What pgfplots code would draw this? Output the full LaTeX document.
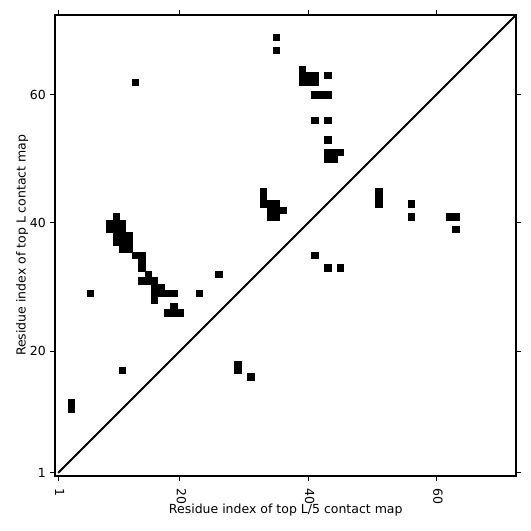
\documentclass[border=0pt]{standalone}
\usepackage{fontspec}
\setmainfont{DejaVu Sans}
\usepackage{pgfplots}
\pgfplotsset{compat=1.18}
\begin{document}
\fontsize{12.5pt}{15pt}\selectfont
\begin{tikzpicture}
\useasboundingbox (-55pt,-55pt) rectangle (476pt,476pt);
\begin{axis}[
  at={(0,0)}, anchor=south west,
  scale only axis, width=461.5pt, height=461.5pt,
  xmin=0.5, xmax=72.5, ymin=0.5, ymax=72.5,
  xtick={1,20,40,60}, ytick={1,20,40,60},
  tick align=outside, major tick length=5pt,
  every tick/.style={black, line width=1pt},
  axis line style={line width=2pt},
  /pgf/number format/assume math mode=true,
  xticklabel style={anchor=west, rotate=-90, inner sep=0pt, xshift=7pt, yshift=1.5pt},
  yticklabel style={anchor=east, inner sep=0pt, xshift=-4pt},
  xlabel={Residue index of top L/5 contact map},
  ylabel={Residue index of top L contact map},
  xlabel style={at={(axis description cs:0.5,-0.0823)}, anchor=base, inner sep=0pt},
  ylabel style={at={(axis description cs:-0.0639,0.5)}, anchor=base, inner sep=0pt},
  clip=true,
]
\addplot[only marks, mark=square*, mark size=3.15pt,
  mark options={draw=black, fill=black, line width=0.1pt}] coordinates {
(3,11) (3,12)
(6,29)
(9,39) (9,40)
(10,37) (10,38) (10,39) (10,40) (10,41)
(11,17)
(11,36) (11,37) (11,38) (11,39) (11,40)
(12,36) (12,37) (12,38)
(13,35) (13,62)
(14,31) (14,33) (14,34) (14,35)
(15,31) (15,32)
(16,28) (16,29) (16,30) (16,31)
(17,29) (17,30)
(18,26) (18,29)
(19,26) (19,27) (19,29)
(20,26)
(23,29)
(26,32)
(29,17) (29,18)
(31,16)
(33,43) (33,44) (33,45)
(34,41) (34,42) (34,43)
(35,41) (35,42) (35,43) (35,67) (35,69)
(36,42)
(39,62) (39,63) (39,64)
(40,62) (40,63)
(41,35) (41,56) (41,60) (41,62) (41,63)
(42,60)
(43,33) (43,50) (43,51) (43,53) (43,56) (43,60) (43,63)
(44,50) (44,51)
(45,33) (45,51)
(51,43) (51,44) (51,45)
(56,41) (56,43)
(62,41) (63,41) (63,39)
};
\addplot[black, line width=2pt] coordinates {(1,1) (73,73)};
\end{axis}
\end{tikzpicture}
\end{document}
